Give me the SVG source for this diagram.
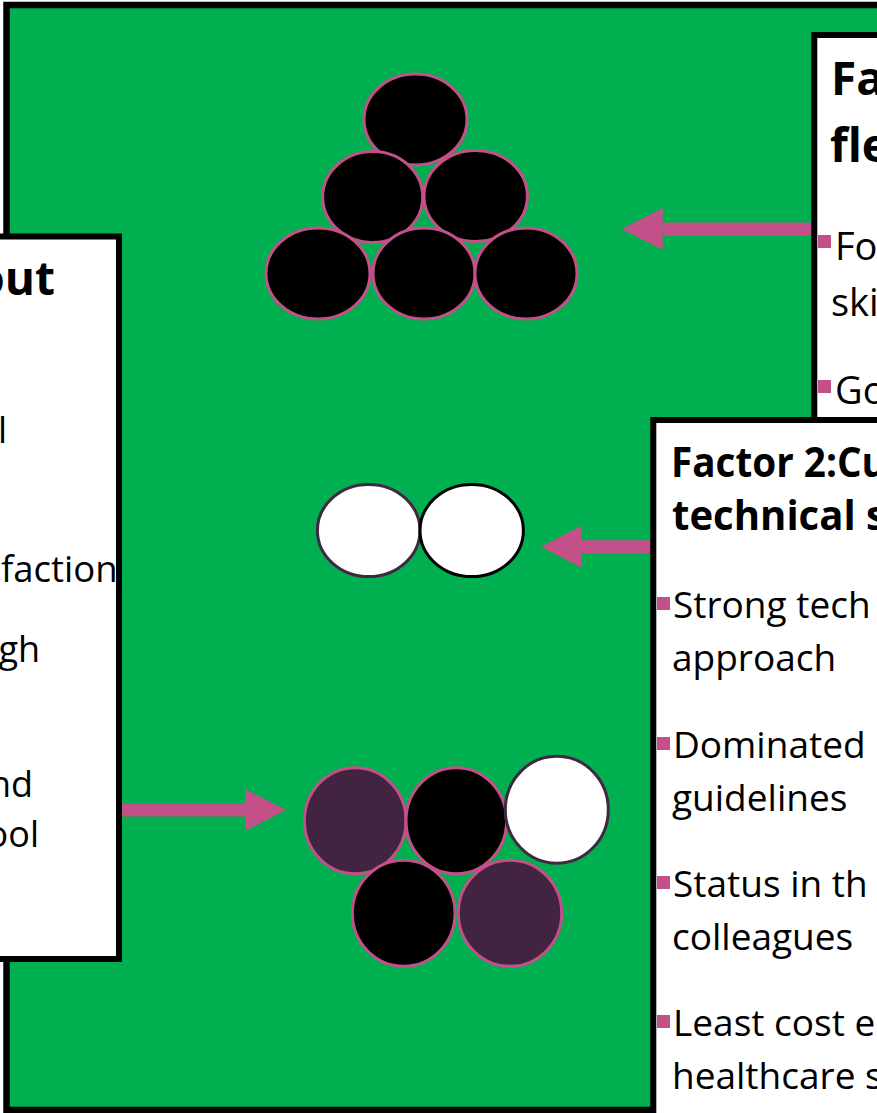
<svg xmlns="http://www.w3.org/2000/svg" width="877" height="1113" viewBox="0 0 877 1113">
  <style>
    .box { fill: #ffffff; stroke: #000000; stroke-width: 6; }
    .ball-p { stroke: #c4508a; stroke-width: 3; }
    .ball-d { stroke: #402840; stroke-width: 3; }
    .ball-k { stroke: #000000; stroke-width: 3; }
    .blk { fill: #000000; }
    .wht { fill: #ffffff; }
    .pur { fill: #432440; }
    .t { font-family: 'Open Sans', 'Liberation Sans', sans-serif; fill: #000000; }
    .b { font-weight: bold; }
    .bul { fill: #c4508a; }
    .arr { stroke: #c4508a; stroke-width: 13; fill: none; marker-end: url(#head); }
  </style>
  <defs>
    <marker id="head" viewBox="0 0 41 42" refX="0" refY="21" markerWidth="41" markerHeight="42" markerUnits="userSpaceOnUse" orient="auto">
      <path d="M0,0 L41,21 L0,42 Z" fill="#c4508a"/>
    </marker>
  </defs>

  <rect id="background" x="6.5" y="5" width="900" height="1105" fill="#00b050" stroke="#000000" stroke-width="6.5"/>

  <g id="pyramid">
    <ellipse class="ball-p blk" cx="415.5" cy="119.5" rx="51.5" ry="45.5"/>
    <ellipse class="ball-p blk" cx="372.7" cy="197" rx="50" ry="45.5"/>
    <ellipse class="ball-p blk" cx="475.7" cy="196" rx="51.7" ry="45.5"/>
    <ellipse class="ball-p blk" cx="318" cy="273.5" rx="52" ry="45.5"/>
    <ellipse class="ball-p blk" cx="424" cy="273.5" rx="51" ry="45.5"/>
    <ellipse class="ball-p blk" cx="526" cy="273.5" rx="51" ry="45.5"/>
  </g>

  <g id="pair">
    <ellipse class="ball-d wht" cx="368.7" cy="530.5" rx="51.3" ry="46"/>
    <ellipse class="ball-k wht" cx="471.7" cy="530.5" rx="51.7" ry="46"/>
  </g>

  <g id="cluster">
    <ellipse class="ball-p pur" cx="355.2" cy="820.7" rx="50.8" ry="53"/>
    <ellipse class="ball-p blk" cx="456.3" cy="820.7" rx="50.3" ry="53"/>
    <ellipse class="ball-d wht" cx="556.8" cy="809.7" rx="51.5" ry="53.5"/>
    <ellipse class="ball-p blk" cx="403.7" cy="913.3" rx="51.3" ry="53"/>
    <ellipse class="ball-p pur" cx="510" cy="913.3" rx="51.7" ry="53"/>
  </g>

  <g id="connectors">
    <line class="arr" x1="813" y1="229" x2="662.7" y2="229"/>
    <line class="arr" x1="652" y1="546.7" x2="581.7" y2="546.7"/>
    <line class="arr" x1="120" y1="810" x2="245" y2="810"/>
  </g>

  <g id="left-box">
    <rect class="box" x="-20" y="236.5" width="139" height="722.5"/>
    <text class="t b" x="55" y="295" font-size="46" text-anchor="end">out</text>
    <text class="t" x="-2" y="443" font-size="36">l</text>
    <text class="t" x="1" y="582" font-size="36.5">faction</text>
    <text class="t" x="40" y="662" font-size="36" text-anchor="end">gh</text>
    <text class="t" x="33" y="797" font-size="36" text-anchor="end">nd</text>
    <text class="t" x="39" y="847" font-size="36" text-anchor="end">ool</text>
  </g>

  <g id="factor-1">
    <rect class="box" x="814.3" y="35" width="100" height="400"/>
    <text class="t b" x="831" y="95" font-size="46">Fa</text>
    <text class="t b" x="830" y="162" font-size="46">fle</text>
    <rect class="bul" x="818" y="235" width="13" height="13"/>
    <text class="t" x="835" y="260" font-size="38">Fo</text>
    <text class="t" x="831" y="316" font-size="38">ski</text>
    <rect class="bul" x="818" y="380" width="13" height="13"/>
    <text class="t" x="835" y="404" font-size="38">Go</text>
  </g>

  <g id="factor-2">
    <rect class="box" x="653.3" y="420" width="300" height="720"/>
    <text class="t b" x="671" y="477" font-size="42" textLength="216" lengthAdjust="spacingAndGlyphs">Factor 2:Cu</text>
    <text class="t b" x="672" y="530" font-size="42" textLength="214" lengthAdjust="spacingAndGlyphs">technical s</text>
    <rect class="bul" x="657" y="597" width="13" height="13"/>
    <text class="t" x="673" y="618" font-size="37">Strong tech</text>
    <text class="t" x="672" y="671" font-size="37">approach</text>
    <rect class="bul" x="657" y="737" width="13" height="13"/>
    <text class="t" x="673" y="758" font-size="37">Dominated</text>
    <text class="t" x="672" y="811" font-size="37">guidelines</text>
    <rect class="bul" x="657" y="876" width="13" height="13"/>
    <text class="t" x="673" y="897" font-size="37">Status in th</text>
    <text class="t" x="672" y="950" font-size="37">colleagues</text>
    <rect class="bul" x="657" y="1015" width="13" height="13"/>
    <text class="t" x="673" y="1036" font-size="37">Least cost e</text>
    <text class="t" x="672" y="1089" font-size="37">healthcare s</text>
  </g>
</svg>
